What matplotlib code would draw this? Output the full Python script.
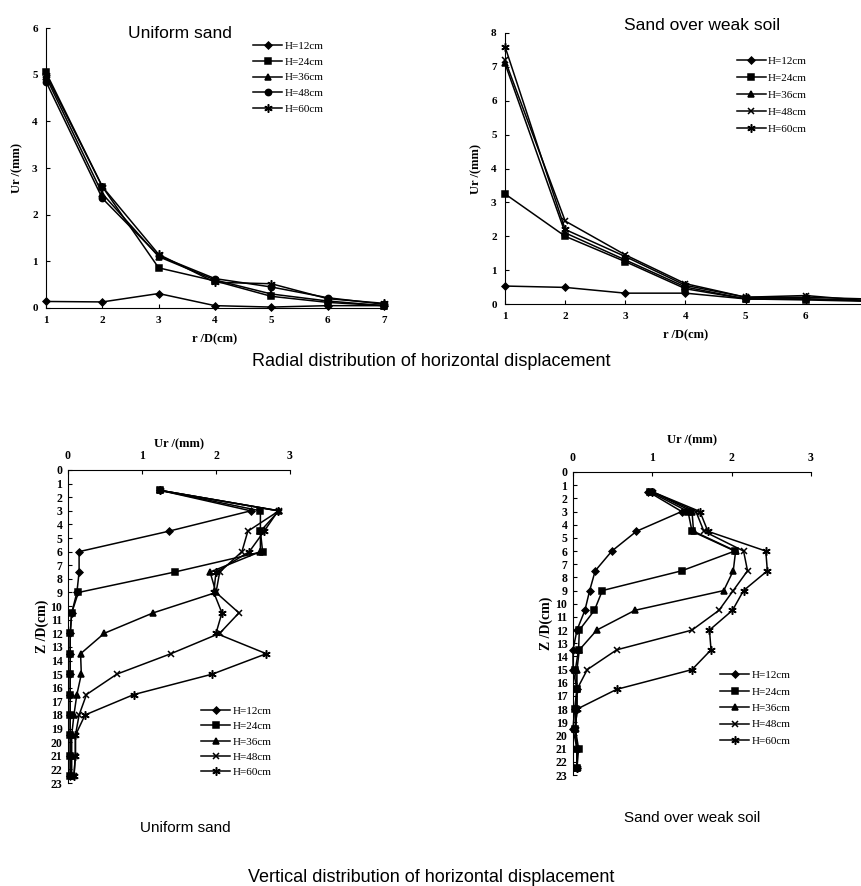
import numpy as np
import matplotlib
matplotlib.use("Agg")
import matplotlib.pyplot as plt

# ---- data ----
labels = ["H=12cm", "H=24cm", "H=36cm", "H=48cm", "H=60cm"]

# radial distribution, r/D = 1..7
r_d = [1, 2, 3, 4, 5, 6, 7]
uni_h12 = [0.14, 0.13, 0.31, 0.05, 0.02, 0.05, 0.05]
uni_h24 = [5.05, 2.60, 0.86, 0.58, 0.25, 0.12, 0.05]
uni_h36 = [4.95, 2.45, 1.10, 0.60, 0.30, 0.15, 0.05]
uni_h48 = [4.85, 2.35, 1.12, 0.63, 0.45, 0.22, 0.08]
uni_h60 = [5.00, 2.60, 1.15, 0.55, 0.52, 0.20, 0.10]

weak_h12 = [0.53, 0.49, 0.32, 0.32, 0.15, 0.15, 0.10]
weak_h24 = [3.25, 2.00, 1.25, 0.45, 0.15, 0.12, 0.08]
weak_h36 = [7.10, 2.10, 1.30, 0.50, 0.15, 0.15, 0.10]
weak_h48 = [7.20, 2.45, 1.45, 0.60, 0.20, 0.25, 0.10]
weak_h60 = [7.60, 2.20, 1.40, 0.55, 0.20, 0.20, 0.15]

# vertical distribution, Z/D depths
z_d = [1.5, 3, 4.5, 6, 7.5, 9, 10.5, 12, 13.5, 15, 16.5, 18, 19.5, 21, 22.5]
vu_h12 = [1.25, 2.47, 1.36, 0.15, 0.15, 0.12, 0.05, 0.03, 0.03, 0.03, 0.03, 0.03, 0.03, 0.03, 0.03]
vu_h24 = [1.25, 2.60, 2.60, 2.63, 1.44, 0.14, 0.05, 0.03, 0.03, 0.03, 0.03, 0.03, 0.03, 0.03, 0.03]
vu_h36 = [1.25, 2.85, 2.60, 2.60, 1.92, 2.00, 1.15, 0.49, 0.17, 0.18, 0.12, 0.08, 0.05, 0.05, 0.05]
vu_h48 = [1.25, 2.85, 2.43, 2.35, 2.05, 2.00, 2.31, 2.05, 1.39, 0.66, 0.25, 0.15, 0.10, 0.10, 0.08]
vu_h60 = [1.25, 2.84, 2.65, 2.45, 2.00, 1.97, 2.08, 2.00, 2.68, 1.95, 0.89, 0.23, 0.10, 0.10, 0.08]

vw_h12 = [0.95, 1.37, 0.80, 0.49, 0.28, 0.21, 0.15, 0.05, 0.00, 0.00, 0.05, 0.02, 0.00, 0.05, 0.05]
vw_h24 = [0.97, 1.45, 1.50, 2.04, 1.37, 0.37, 0.27, 0.08, 0.07, 0.03, 0.05, 0.03, 0.03, 0.07, 0.05]
vw_h36 = [1.00, 1.50, 1.52, 2.05, 2.02, 1.90, 0.78, 0.30, 0.08, 0.05, 0.05, 0.05, 0.03, 0.05, 0.05]
vw_h48 = [1.00, 1.55, 1.65, 2.15, 2.20, 2.02, 1.84, 1.50, 0.55, 0.18, 0.05, 0.05, 0.03, 0.05, 0.05]
vw_h60 = [1.00, 1.60, 1.70, 2.43, 2.45, 2.15, 2.01, 1.72, 1.74, 1.50, 0.55, 0.05, 0.03, 0.05, 0.05]

serif = "Liberation Serif"
sans = "Liberation Sans"
ast = (6, 2, 0)

def style(m):
    # marker, size
    return {"D": ("D", 3.5), "s": ("s", 4.5), "^": ("^", 5), "o": ("o", 4.5),
            "x": ("x", 5), "*": (ast, 6)}[m]

def draw(ax, xs, ys_list, marks, vertical=False):
    for ys, m, lab in zip(ys_list, marks, labels):
        mk, ms = style(m)
        if vertical:
            ax.plot(ys, xs, color="black", lw=1.1, marker=mk, ms=ms, mew=1.1,
                    label=lab, clip_on=False)
        else:
            ax.plot(xs, ys, color="black", lw=1.1, marker=mk, ms=ms, mew=1.1,
                    label=lab, clip_on=False)

def tick_font(ax, size):
    for t in ax.get_xticklabels() + ax.get_yticklabels():
        t.set_fontfamily(serif)
        t.set_fontweight("bold")
        t.set_fontsize(size)

fig = plt.figure(figsize=(8.62, 8.86), dpi=100)
W, H = 862.0, 886.0

def add_axes(x0, x1, ytop, ybot):
    return fig.add_axes([x0 / W, 1 - ybot / H, (x1 - x0) / W, (ybot - ytop) / H])

# ---- top left: uniform sand ----
ax1 = add_axes(46, 384, 28, 308)
draw(ax1, r_d, [uni_h12, uni_h24, uni_h36, uni_h48, uni_h60], ["D", "s", "^", "o", "*"])
ax1.set_xlim(1, 7)
ax1.set_ylim(0, 6)
ax1.set_xticks(range(1, 8))
ax1.set_yticks(range(0, 7))
ax1.spines[["top", "right"]].set_visible(False)
ax1.tick_params(direction="in", length=3, width=0.8, pad=6)
tick_font(ax1, 8)
ax1.set_xlabel("r /D(cm)", fontfamily=serif, fontweight="bold", fontsize=9, labelpad=6)
ax1.set_ylabel("Ur /(mm)", fontfamily=serif, fontweight="bold", fontsize=9, labelpad=6)
ax1.legend(loc="upper left", bbox_to_anchor=(0.6, 0.97), frameon=False,
           prop={"family": serif, "size": 8}, handlelength=2.6, labelspacing=0.55,
           handletextpad=0.2, borderaxespad=0)
fig.text(180 / W, 1 - 33 / H, "Uniform sand", family=sans, fontsize=12.5,
         ha="center", va="center")

# ---- top right: sand over weak soil (right edge cut by the page) ----
ax2 = add_axes(505, 866, 33, 304)
draw(ax2, r_d, [weak_h12, weak_h24, weak_h36, weak_h48, weak_h60], ["D", "s", "^", "x", "*"])
ax2.set_xlim(1, 7)
ax2.set_ylim(0, 8)
ax2.set_xticks(range(1, 7))
ax2.set_yticks(range(0, 9))
ax2.spines[["top", "right"]].set_visible(False)
ax2.tick_params(direction="in", length=3, width=0.8, pad=6)
tick_font(ax2, 8)
ax2.set_xlabel("r /D(cm)", fontfamily=serif, fontweight="bold", fontsize=9, labelpad=6)
ax2.set_ylabel("Ur /(mm)", fontfamily=serif, fontweight="bold", fontsize=9, labelpad=6)
ax2.legend(loc="upper left", bbox_to_anchor=(0.63, 0.93), frameon=False,
           prop={"family": serif, "size": 8}, handlelength=2.6, labelspacing=0.65,
           handletextpad=0.2, borderaxespad=0)
fig.text(702 / W, 1 - 25 / H, "Sand over weak soil", family=sans, fontsize=12.5,
         ha="center", va="center")

fig.text(431 / W, 1 - 362 / H, "Radial distribution of horizontal displacement",
         family=sans, fontsize=13, ha="center", va="center")

# ---- bottom left: uniform sand, vertical ----
ax3 = add_axes(68, 290, 470, 783)
draw(ax3, z_d, [vu_h12, vu_h24, vu_h36, vu_h48, vu_h60], ["D", "s", "^", "x", "*"], vertical=True)
ax3.set_xlim(0, 3)
ax3.set_ylim(23, 0)
ax3.set_xticks(range(0, 4))
ax3.set_yticks(range(0, 24))
ax3.xaxis.tick_top()
ax3.xaxis.set_label_position("top")
ax3.spines[["bottom", "right"]].set_visible(False)
ax3.tick_params(direction="in", length=3, width=0.8, pad=6)
ax3.tick_params(axis="y", pad=4)
tick_font(ax3, 8.5)
ax3.set_xlabel("Ur /(mm)", fontfamily=serif, fontweight="bold", fontsize=9, labelpad=2)
ax3.set_ylabel("Z /D(cm)", fontfamily=serif, fontweight="bold", fontsize=10, labelpad=1)
ax3.legend(loc="upper left", bbox_to_anchor=(0.58, 0.26), frameon=False,
           prop={"family": serif, "size": 8}, handlelength=2.6, labelspacing=0.5,
           handletextpad=0.2, borderaxespad=0)
fig.text(185 / W, 1 - 828 / H, "Uniform sand", family=sans, fontsize=11,
         ha="center", va="center")

# ---- bottom right: sand over weak soil, vertical ----
ax4 = add_axes(573, 811, 472, 775)
draw(ax4, z_d, [vw_h12, vw_h24, vw_h36, vw_h48, vw_h60], ["D", "s", "^", "x", "*"], vertical=True)
ax4.set_xlim(0, 3)
ax4.set_ylim(23, 0)
ax4.set_xticks(range(0, 4))
ax4.set_yticks(range(0, 24))
ax4.xaxis.tick_top()
ax4.xaxis.set_label_position("top")
ax4.spines[["bottom", "right"]].set_visible(False)
ax4.tick_params(direction="in", length=3, width=0.8, pad=6)
ax4.tick_params(axis="y", pad=4)
tick_font(ax4, 8.5)
ax4.set_xlabel("Ur /(mm)", fontfamily=serif, fontweight="bold", fontsize=9, labelpad=6)
ax4.set_ylabel("Z /D(cm)", fontfamily=serif, fontweight="bold", fontsize=10, labelpad=2)
ax4.legend(loc="upper left", bbox_to_anchor=(0.6, 0.36), frameon=False,
           prop={"family": serif, "size": 8}, handlelength=2.6, labelspacing=0.6,
           handletextpad=0.2, borderaxespad=0)
fig.text(692 / W, 1 - 818 / H, "Sand over weak soil", family=sans, fontsize=11,
         ha="center", va="center")

fig.text(431 / W, 1 - 877 / H, "Vertical distribution of horizontal displacement",
         family=sans, fontsize=13, ha="center", va="center")

fig.savefig("out.png", dpi=100)
